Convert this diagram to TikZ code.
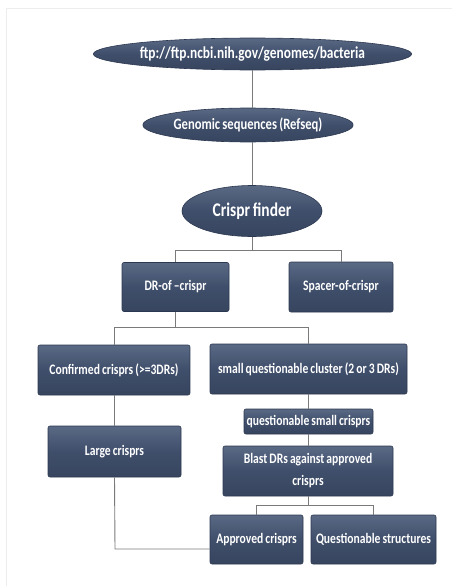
\documentclass[tikz,border=0pt]{standalone}
\usepackage{fontspec}
\setmainfont{Carlito}
\usetikzlibrary{shapes.geometric,calc}
\definecolor{boxtop}{HTML}{5A6984}
\definecolor{boxmid}{HTML}{3F4E6A}
\definecolor{boxbot}{HTML}{37455F}
\definecolor{boxedge}{HTML}{2C3850}
\definecolor{linkcol}{HTML}{7A7A7A}
\newcommand\tall[1]{\scalebox{1}[1.25]{\spaceskip=0.18em plus 0.05em\relax #1}}
\tikzset{
  every node/.style={text=white,font=\bfseries\fontsize{11.6}{22}\selectfont,inner sep=0pt,align=center},
  oval/.style={ellipse,draw=boxedge,line width=0.6pt,top color=boxtop,bottom color=boxbot,middle color=boxmid},
  card/.style={rectangle,rounded corners=2pt,draw=boxedge,line width=0.6pt,top color=boxtop,bottom color=boxbot,middle color=boxmid},
  link/.style={draw=linkcol,line width=0.9pt}
}
\begin{document}
\begin{tikzpicture}[x=1pt,y=-1pt]
\useasboundingbox (0,0) rectangle (452,586);
\draw[black!7,line width=0.5pt] (6,8) -- (452,8) (6,8) -- (6,586);
% ellipses
\node[oval,minimum width=281pt,minimum height=32pt,font=\bfseries\fontsize{13.4}{16}\selectfont] (ftp) at (252.5,54) {\tall{ftp://ftp.ncbi.nih.gov/genomes/bacteria}};
\node[oval,minimum width=180pt,minimum height=34pt,font=\bfseries\fontsize{12.6}{16}\selectfont] (gen) at (248,125) {\tall{Genomic sequences (Refseq)}};
\node[oval,minimum width=140pt,minimum height=51pt,font=\bfseries\fontsize{15.5}{18}\selectfont] (cf) at (252,211) {\tall{Crispr finder}};
% boxes
\node[card,minimum width=107pt,minimum height=49pt] (dr) at (175.5,287) {\tall{DR-of --crispr}};
\node[card,minimum width=104pt,minimum height=50pt] (sp) at (341,287) {\tall{Spacer-of-crispr}};
\node[card,minimum width=152pt,minimum height=50pt] (conf) at (114,370) {\tall{Confirmed crisprs (>=3DRs)}};
\node[card,minimum width=197pt,minimum height=50pt] (smq) at (308.5,369) {\tall{small questionable cluster (2 or 3 DRs)}};
\node[card,minimum width=133pt,minimum height=51pt] (large) at (114.5,451.5) {\tall{Large crisprs}};
\node[card,minimum width=129pt,minimum height=25pt] (qsc) at (308.5,421.5) {\tall{questionable small crisprs}};
\node[card,minimum width=170pt,minimum height=50pt] (blast) at (308,471) {\tall{Blast DRs against approved}\\\tall{crisprs}};
\node[card,minimum width=93pt,minimum height=49pt] (appr) at (256.5,539.5) {\tall{Approved crisprs}};
\node[card,minimum width=125pt,minimum height=49pt] (qst) at (373.5,539.5) {\tall{Questionable structures}};
% connectors
\draw[link] (ftp.south) -- (ftp.south |- gen.north);
\draw[link] (cf.north |- gen.south) -- (cf.north);
\coordinate (j1) at ($(cf.south)+(0,14)$);
\draw[link] (cf.south) -- (j1);
\draw[link] (dr.north) |- (j1) -| (sp.north);
\coordinate (j2) at ($(dr.south)+(0,16)$);
\draw[link] (dr.south) -- (j2);
\draw[link] (conf.north) |- (j2) -| (smq.north);
\draw[link] (conf.south) -- (conf.south |- large.north);
\draw[link] (smq.south) -- (smq.south |- qsc.north);
\draw[link] (qsc.south) -- (qsc.south |- blast.north);
\coordinate (j3) at ($(blast.south)+(0,9)$);
\draw[link] (blast.south) -- (j3);
\draw[link] (appr.north) |- (j3) -| (qst.north);
\coordinate (j4) at (115,549);
\draw[link] (large.south) -- (j4) -- (j4 -| appr.west);
\end{tikzpicture}
\end{document}
